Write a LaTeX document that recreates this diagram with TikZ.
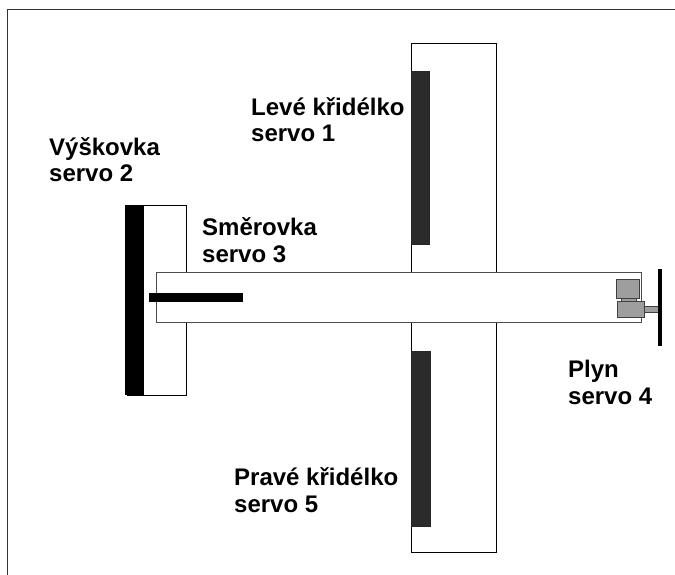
\documentclass[tikz,border=0pt]{standalone}
\usepackage{fontspec}
\setmainfont{Liberation Sans}
\begin{document}
\begin{tikzpicture}[x=1pt,y=-1pt,
  outline/.style={draw=black,line width=1pt},
  surface/.style={outline,fill=white},
  aileron/.style={draw=black!85,fill=black!83,line width=0.8pt},
  blackbar/.style={fill=black,draw=none},
  enginepart/.style={draw=black!75,fill=black!38,line width=0.9pt},
  servolabel/.style={anchor=base west,inner sep=0pt,align=left,
    font=\fontsize{24}{26.5}\selectfont\bfseries}]
\useasboundingbox (0,0) rectangle (675,575);
% sheet frame
\draw[draw=black!80,line width=1pt] (7,575) -- (7,10) -- (675,10);

% wings
\draw[surface] (411,44) rectangle (496,272);
\draw[surface] (411,322) rectangle (496,552);
\draw[aileron] (411,71) rectangle (429,244);
\draw[aileron] (411,351) rectangle (430,526);

% tailplane with elevator
\draw[surface] (127,205) rectangle (186,395);
\fill[blackbar] (125,205) rectangle (144,395);

% fuselage
\draw[surface,draw=black!70] (156,272) rectangle (641,322);

% rudder
\fill[blackbar] (149,293) rectangle (243,302);

% engine and propeller
\draw[enginepart] (616,279) rectangle (639,298);
\draw[enginepart] (621,298) rectangle (636,302);
\draw[enginepart] (617,301) rectangle (644,317);
\draw[enginepart] (644,306) rectangle (658,312);
\fill[blackbar] (658,269) rectangle (662,346);

% labels (anchored at the baseline of the second line)
\node[servolabel] (levy) at (251,142) {Levé křidélko\\servo 1};
\node[servolabel] (vyskovka) at (49,182) {Výškovka\\servo 2};
\node[servolabel] (smerovka) at (202,262) {Směrovka\\servo 3};
\node[servolabel] (plyn) at (568,404) {Plyn\\servo 4};
\node[servolabel] (pravy) at (234,512) {Pravé křidélko\\servo 5};
\end{tikzpicture}
\end{document}
